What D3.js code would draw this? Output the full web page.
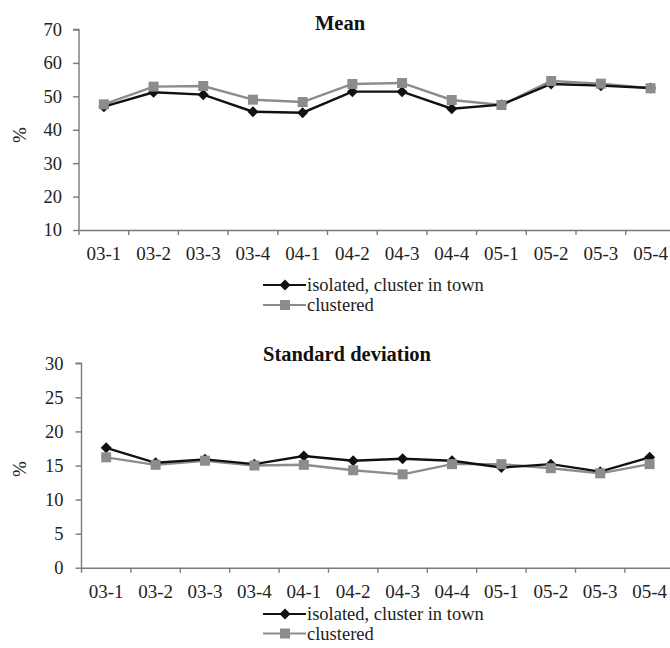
<!DOCTYPE html>
<html>
<head>
<meta charset="utf-8">
<script src="https://cdn.jsdelivr.net/npm/d3@7"></script>
<style>
  body { margin: 0; background: #fff; }
</style>
</head>
<body>
<div id="chart"></div>
<script>
const width = 670, height = 648
const serif = "'Liberation Serif', 'Times New Roman', Times, serif"

// quarters on the x axis
const quarters = ["03-1", "03-2", "03-3", "03-4", "04-1", "04-2", "04-3", "04-4", "05-1", "05-2", "05-3", "05-4"]

// Mean (%)
const meanIsolated = [46.9, 51.2, 50.5, 45.4, 45.1, 51.4, 51.4, 46.3, 47.5, 53.7, 53.2, 52.5]
const meanClustered = [47.6, 52.9, 53.1, 49.0, 48.3, 53.7, 54.0, 48.9, 47.4, 54.6, 53.8, 52.4]

// Standard deviation (%)
const sdIsolated = [17.6, 15.4, 15.9, 15.2, 16.4, 15.7, 16.0, 15.7, 14.7, 15.2, 14.1, 16.2]
const sdClustered = [16.2, 15.1, 15.7, 15.0, 15.1, 14.3, 13.7, 15.2, 15.2, 14.6, 13.85, 15.2]

const meanTicks = [10, 20, 30, 40, 50, 60, 70]
const sdTicks = [0, 5, 10, 15, 20, 25, 30]

const seriesNames = ["isolated, cluster in town", "clustered"]

const svg = d3.select("#chart").append("svg")
  .attr("width", width)
  .attr("height", height)

function diamond(s) {
  return `M0,${-s}L${s},0L0,${s}L${-s},0Z`
}

function panel(opt) {
  const g = svg.append("g")

  const x = d3.scaleBand()
    .domain(quarters)
    .range([opt.left, opt.left + quarters.length * opt.step])

  const y = d3.scaleLinear()
    .domain(d3.extent(opt.ticks))
    .range([opt.bottom, opt.top])

  // title
  g.append("text")
    .attr("x", opt.titleX)
    .attr("y", opt.titleY)
    .attr("text-anchor", "middle")
    .style("font-size", "20.5px")
    .style("font-weight", "bold")
    .attr("fill", "#111")
    .text(opt.title)

  // y axis
  const yAxis = g.append("g")
    .attr("transform", `translate(${opt.left},0)`)
    .call(d3.axisLeft(y).tickValues(opt.ticks).tickSize(6).tickPadding(opt.yPad))
  yAxis.select(".domain").attr("stroke", "#7a7a7a").attr("stroke-width", 1.4)
    .attr("d", `M-6,${opt.top}H0V${opt.bottom}`)
  yAxis.selectAll(".tick line").attr("stroke", "#7a7a7a").attr("stroke-width", 1.4)
  yAxis.selectAll(".tick text").style("font-size", "18.5px").attr("fill", "#222")

  // x axis: ticks at category boundaries
  const xAxis = g.append("g")
    .attr("transform", `translate(0,${opt.bottom})`)
    .call(d3.axisBottom(x).tickSize(0))
  xAxis.select(".domain").attr("stroke", "#7a7a7a").attr("stroke-width", 1.4)
  xAxis.selectAll(".tick text")
    .attr("dy", 0)
    .attr("y", 30)
    .style("font-size", "19px")
    .attr("fill", "#222")
  xAxis.selectAll(".bound")
    .data(d3.range(quarters.length + 1))
    .join("line")
    .attr("class", "bound")
    .attr("x1", i => opt.left + i * opt.step)
    .attr("x2", i => opt.left + i * opt.step)
    .attr("y1", 0)
    .attr("y2", 5)
    .attr("stroke", "#7a7a7a")
    .attr("stroke-width", 1.4)

  // y label
  g.append("text")
    .attr("transform", `translate(26,${opt.labelY}) rotate(-90)`)
    .attr("text-anchor", "middle")
    .style("font-size", "19px")
    .attr("fill", "#222")
    .text("%")

  const line = d3.line()
    .x((d, i) => x(quarters[i]) + x.bandwidth() / 2)
    .y(d => y(d))

  // clustered (gray squares) first, isolated on top
  g.append("path")
    .datum(opt.clustered)
    .attr("d", line)
    .attr("fill", "none")
    .attr("stroke", "#8c8c8c")
    .attr("stroke-width", 2.4)

  g.append("path")
    .datum(opt.isolated)
    .attr("d", line)
    .attr("fill", "none")
    .attr("stroke", "#111")
    .attr("stroke-width", 2.4)

  g.selectAll(".dia")
    .data(opt.isolated)
    .join("path")
    .attr("class", "dia")
    .attr("transform", (d, i) => `translate(${x(quarters[i]) + x.bandwidth() / 2},${y(d)})`)
    .attr("d", diamond(5.5))
    .attr("fill", "#111")

  g.selectAll(".sq")
    .data(opt.clustered)
    .join("rect")
    .attr("class", "sq")
    .attr("x", (d, i) => x(quarters[i]) + x.bandwidth() / 2 - 5)
    .attr("y", d => y(d) - 5)
    .attr("width", 10)
    .attr("height", 10)
    .attr("fill", "#8c8c8c")

  // legend
  const lg = g.append("g").attr("transform", `translate(263,${opt.legendY})`)
  seriesNames.forEach((name, i) => {
    const row = lg.append("g").attr("transform", `translate(0,${i * opt.legendGap})`)
    row.append("line")
      .attr("x1", 0).attr("x2", 43)
      .attr("stroke", i === 0 ? "#111" : "#8c8c8c")
      .attr("stroke-width", 2.2)
    if (i === 0) {
      row.append("path").attr("transform", "translate(22,0)").attr("d", diamond(5.5)).attr("fill", "#111")
    } else {
      row.append("rect").attr("x", 17).attr("y", -5).attr("width", 10).attr("height", 10).attr("fill", "#8c8c8c")
    }
    row.append("text")
      .attr("x", 44)
      .attr("y", 6)
      .style("font-size", "18.5px")
      .attr("fill", "#222")
      .text(name)
  })
}

panel({
  title: "Mean", titleX: 340, titleY: 30,
  isolated: meanIsolated, clustered: meanClustered,
  ticks: meanTicks,
  left: 79, step: 49.7, top: 29.5, bottom: 230,
  yPad: 11, labelY: 135, legendY: 285, legendGap: 20
})

panel({
  title: "Standard deviation", titleX: 347, titleY: 361,
  isolated: sdIsolated, clustered: sdClustered,
  ticks: sdTicks,
  left: 81.5, step: 49.4, top: 363.3, bottom: 567.7,
  yPad: 12, labelY: 469, legendY: 614, legendGap: 19.5
})

svg.selectAll("text").style("font-family", serif)
</script>
</body>
</html>
